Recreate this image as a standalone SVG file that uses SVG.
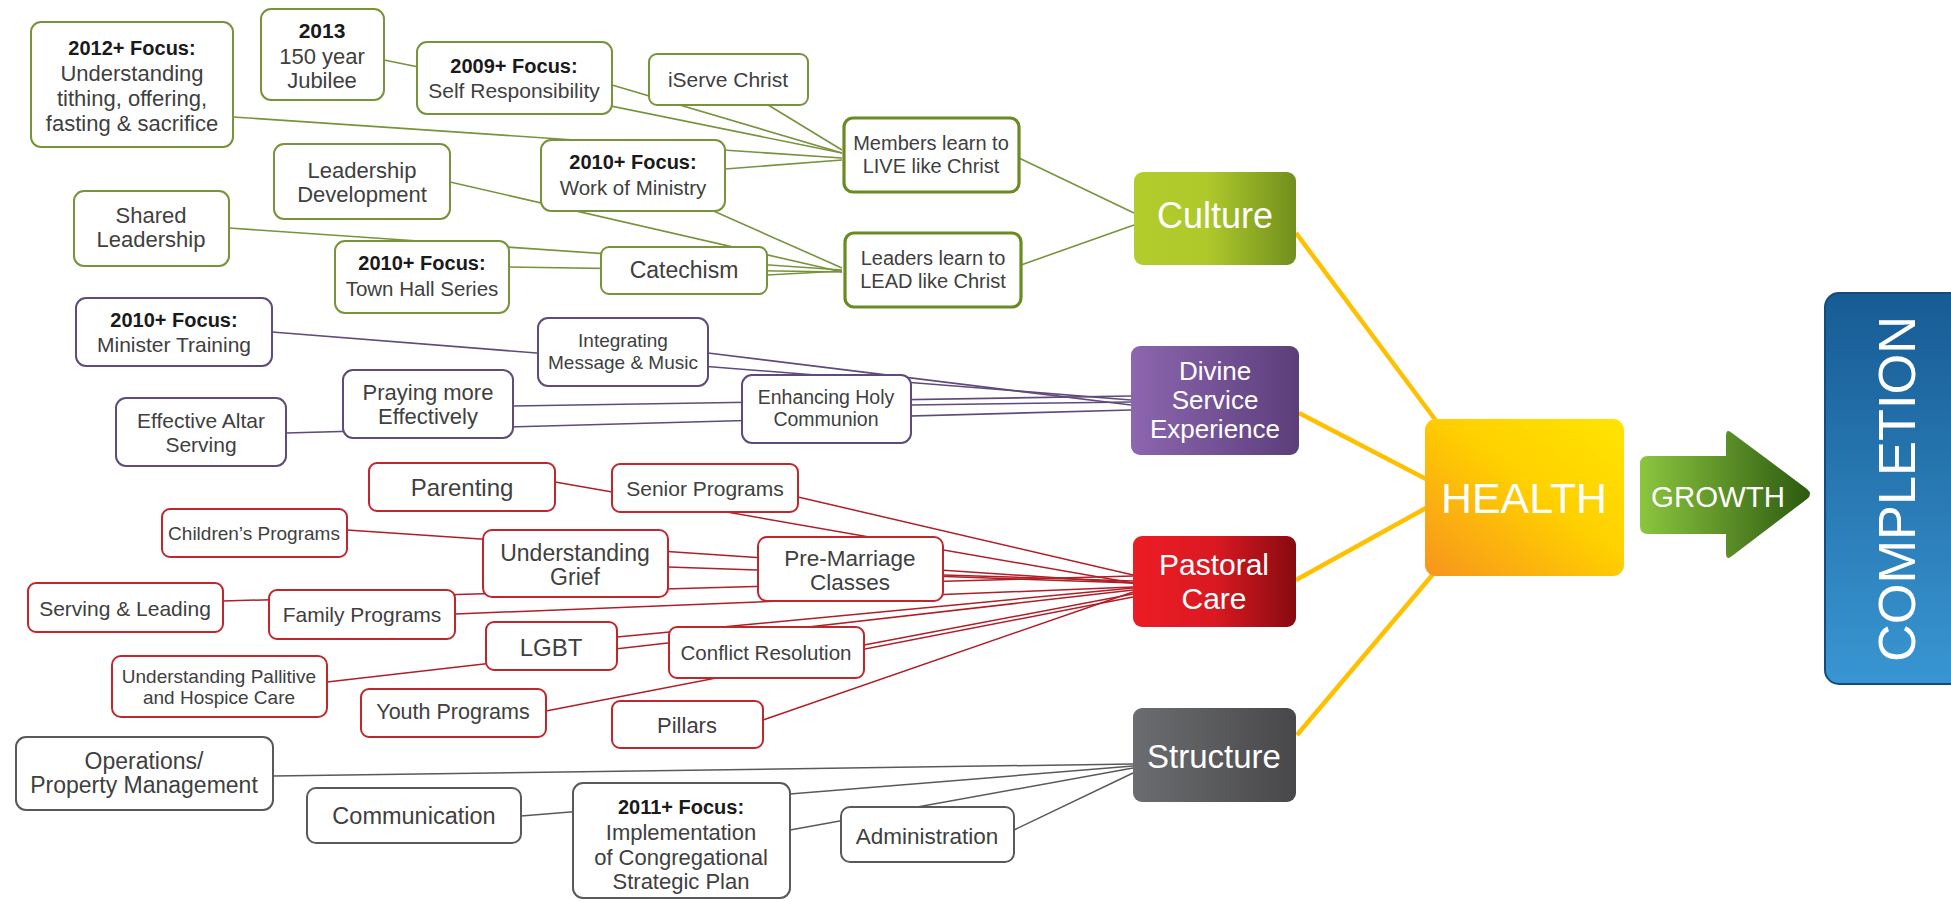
<svg xmlns="http://www.w3.org/2000/svg" width="1951" height="901" viewBox="0 0 1951 901">
<defs>
<style>
.t{font-family:"Liberation Sans",Arial,sans-serif;fill:#404040;text-anchor:middle;dominant-baseline:central}
.b{font-weight:bold;fill:#1a1a1a}
.w{fill:#ffffff}
.gn rect{fill:#fff;stroke:#77933C;stroke-width:2}
.gk rect{fill:#fff;stroke:#6B8A23;stroke-width:3.2}
.pu rect{fill:#fff;stroke:#604A7B;stroke-width:2}
.rd rect{fill:#fff;stroke:#C0272D;stroke-width:2}
.gy rect{fill:#fff;stroke:#595959;stroke-width:2}
.cg line{stroke:#77933C;stroke-width:1.6}
.cp line{stroke:#5F4A7A;stroke-width:1.6}
.cr line{stroke:#B01E27;stroke-width:1.5}
.cy line{stroke:#595959;stroke-width:1.5}
.cw line{stroke:#FFC000;stroke-width:4.5}
</style>
<linearGradient id="gCul" x1="0" y1="0" x2="1" y2="0"><stop offset="0" stop-color="#B2CC2C"/><stop offset="0.45" stop-color="#AFC92B"/><stop offset="1" stop-color="#718F1D"/></linearGradient>
<linearGradient id="gDiv" x1="0" y1="0" x2="1" y2="0"><stop offset="0" stop-color="#8C66AF"/><stop offset="1" stop-color="#5C3E7B"/></linearGradient>
<linearGradient id="gPas" x1="0" y1="0" x2="1" y2="0"><stop offset="0" stop-color="#EC1C24"/><stop offset="0.5" stop-color="#DA1921"/><stop offset="1" stop-color="#870A10"/></linearGradient>
<linearGradient id="gStr" x1="0" y1="0" x2="1" y2="0"><stop offset="0" stop-color="#6C6D70"/><stop offset="1" stop-color="#48484A"/></linearGradient>
<linearGradient id="gHea" x1="1" y1="0" x2="0" y2="1"><stop offset="0" stop-color="#FFE500"/><stop offset="0.45" stop-color="#FFD000"/><stop offset="1" stop-color="#F7941D"/></linearGradient>
<linearGradient id="gGro" x1="0" y1="0" x2="1" y2="0"><stop offset="0" stop-color="#8CC63F"/><stop offset="1" stop-color="#2C5A10"/></linearGradient>
<linearGradient id="gCom" x1="0" y1="0" x2="0" y2="1"><stop offset="0" stop-color="#175B94"/><stop offset="1" stop-color="#3996D2"/></linearGradient>
</defs>
<rect width="1951" height="901" fill="#ffffff"/>

<g id="connectors">
<g class="cg">
<line x1="384" y1="60" x2="842" y2="153"/>
<line x1="612" y1="85" x2="842" y2="153"/>
<line x1="760" y1="100" x2="842" y2="150"/>
<line x1="233" y1="117" x2="842" y2="158"/>
<line x1="725" y1="169" x2="842" y2="160"/>
<line x1="700" y1="205" x2="842" y2="268"/>
<line x1="450" y1="182" x2="842" y2="272"/>
<line x1="229" y1="228" x2="842" y2="270"/>
<line x1="509" y1="267" x2="842" y2="272"/>
<line x1="767" y1="275" x2="842" y2="271"/>
<line x1="1019" y1="158" x2="1134" y2="213"/>
<line x1="1021" y1="265" x2="1134" y2="225"/>
</g>
<g class="cp">
<line x1="272" y1="332" x2="1131" y2="400"/>
<line x1="708" y1="353" x2="1131" y2="405"/>
<line x1="513" y1="406" x2="1131" y2="396"/>
<line x1="286" y1="433" x2="1131" y2="410"/>
<line x1="911" y1="405" x2="1131" y2="402"/>
</g>
<g class="cr">
<line x1="555" y1="482" x2="1133" y2="583"/>
<line x1="798" y1="497" x2="1133" y2="575"/>
<line x1="347" y1="530" x2="1133" y2="583"/>
<line x1="668" y1="567" x2="1133" y2="583"/>
<line x1="223" y1="601" x2="1133" y2="576"/>
<line x1="455" y1="614" x2="1133" y2="587"/>
<line x1="943" y1="575" x2="1133" y2="581"/>
<line x1="617" y1="637" x2="1133" y2="588"/>
<line x1="327" y1="682" x2="1133" y2="590"/>
<line x1="864" y1="645" x2="1133" y2="594"/>
<line x1="546" y1="711" x2="1133" y2="597"/>
<line x1="763" y1="720" x2="1133" y2="592"/>
</g>
<g class="cy">
<line x1="273" y1="776" x2="1133" y2="764"/>
<line x1="521" y1="816" x2="1133" y2="766"/>
<line x1="790" y1="830" x2="1133" y2="768"/>
<line x1="1014" y1="830" x2="1133" y2="773"/>
</g>
<g class="cw">
<line x1="1296" y1="233" x2="1437" y2="422"/>
<line x1="1299" y1="413" x2="1426" y2="479"/>
<line x1="1296" y1="580" x2="1426" y2="508"/>
<line x1="1297" y1="735" x2="1434" y2="573"/>
</g>
</g>

<!-- Culture branch -->
<g id="n2012" class="gn"><rect x="31" y="22" width="202" height="125" rx="10"/>
<text class="t b" x="132" y="48" font-size="20">2012+ Focus:</text>
<text class="t" x="132" y="73" font-size="22">Understanding</text>
<text class="t" x="132" y="98" font-size="22">tithing, offering,</text>
<text class="t" x="132" y="123" font-size="22">fasting &amp; sacrifice</text></g>
<g id="n2013" class="gn"><rect x="261" y="9" width="123" height="91" rx="10"/>
<text class="t b" x="322" y="30" font-size="21">2013</text>
<text class="t" x="322" y="56" font-size="22">150 year</text>
<text class="t" x="322" y="80" font-size="22">Jubilee</text></g>
<g id="n2009" class="gn"><rect x="417" y="42" width="195" height="72" rx="10"/>
<text class="t b" x="514" y="66" font-size="20">2009+ Focus:</text>
<text class="t" x="514" y="90" font-size="21">Self Responsibility</text></g>
<g id="iserve" class="gn"><rect x="649" y="54" width="159" height="51" rx="8"/>
<text class="t" x="728" y="79" font-size="21">iServe Christ</text></g>
<g id="members" class="gk"><rect x="844" y="118" width="175" height="74" rx="9"/>
<text class="t" x="931" y="143" font-size="20">Members learn to</text>
<text class="t" x="931" y="166" font-size="20">LIVE like Christ</text></g>
<g id="leaders" class="gk"><rect x="845" y="233" width="176" height="74" rx="9"/>
<text class="t" x="933" y="258" font-size="20">Leaders learn to</text>
<text class="t" x="933" y="281" font-size="20">LEAD like Christ</text></g>
<g id="work" class="gn"><rect x="541" y="140" width="184" height="71" rx="10"/>
<text class="t b" x="633" y="162" font-size="20">2010+ Focus:</text>
<text class="t" x="633" y="187" font-size="20.5">Work of Ministry</text></g>
<g id="leaddev" class="gn"><rect x="274" y="144" width="176" height="75" rx="10"/>
<text class="t" x="362" y="170" font-size="22">Leadership</text>
<text class="t" x="362" y="194" font-size="22">Development</text></g>
<g id="shared" class="gn"><rect x="74" y="191" width="155" height="75" rx="10"/>
<text class="t" x="151" y="215" font-size="22">Shared</text>
<text class="t" x="151" y="239" font-size="22">Leadership</text></g>
<g id="townhall" class="gn"><rect x="335" y="241" width="174" height="72" rx="10"/>
<text class="t b" x="422" y="263" font-size="20">2010+ Focus:</text>
<text class="t" x="422" y="288" font-size="20.5">Town Hall Series</text></g>
<g id="catechism" class="gn"><rect x="601" y="247" width="166" height="47" rx="8"/>
<text class="t" x="684" y="270" font-size="23">Catechism</text></g>
<g id="culture"><rect x="1134" y="172" width="162" height="93" rx="9" fill="url(#gCul)"/>
<text class="t w" x="1215" y="215" font-size="36">Culture</text></g>

<!-- Divine Service branch -->
<g id="minister" class="pu"><rect x="76" y="298" width="196" height="68" rx="10"/>
<text class="t b" x="174" y="320" font-size="20">2010+ Focus:</text>
<text class="t" x="174" y="344" font-size="21">Minister Training</text></g>
<g id="integrating" class="pu"><rect x="538" y="318" width="170" height="68" rx="10"/>
<text class="t" x="623" y="340" font-size="19">Integrating</text>
<text class="t" x="623" y="362" font-size="19">Message &amp; Music</text></g>
<g id="praying" class="pu"><rect x="343" y="370" width="170" height="68" rx="10"/>
<text class="t" x="428" y="392" font-size="22">Praying more</text>
<text class="t" x="428" y="416" font-size="22">Effectively</text></g>
<g id="altar" class="pu"><rect x="116" y="398" width="170" height="68" rx="10"/>
<text class="t" x="201" y="420" font-size="21">Effective Altar</text>
<text class="t" x="201" y="444" font-size="21">Serving</text></g>
<g id="enhancing" class="pu"><rect x="742" y="375" width="169" height="68" rx="10"/>
<text class="t" x="826" y="397" font-size="19.5">Enhancing Holy</text>
<text class="t" x="826" y="419" font-size="19.5">Communion</text></g>
<g id="divine"><rect x="1131" y="346" width="168" height="109" rx="9" fill="url(#gDiv)"/>
<text class="t w" x="1215" y="371" font-size="26">Divine</text>
<text class="t w" x="1215" y="400" font-size="26">Service</text>
<text class="t w" x="1215" y="429" font-size="26">Experience</text></g>

<!-- Pastoral Care branch -->
<g id="parenting" class="rd"><rect x="369" y="463" width="186" height="48" rx="8"/>
<text class="t" x="462" y="487" font-size="24">Parenting</text></g>
<g id="senior" class="rd"><rect x="612" y="464" width="186" height="48" rx="8"/>
<text class="t" x="705" y="488" font-size="21">Senior Programs</text></g>
<g id="children" class="rd"><rect x="162" y="509" width="185" height="48" rx="8"/>
<text class="t" x="254" y="533" font-size="19">Children’s Programs</text></g>
<g id="grief" class="rd"><rect x="483" y="530" width="185" height="67" rx="9"/>
<text class="t" x="575" y="553" font-size="23">Understanding</text>
<text class="t" x="575" y="577" font-size="23">Grief</text></g>
<g id="premarriage" class="rd"><rect x="758" y="537" width="185" height="64" rx="9"/>
<text class="t" x="850" y="558" font-size="22.5">Pre-Marriage</text>
<text class="t" x="850" y="582" font-size="22.5">Classes</text></g>
<g id="serving" class="rd"><rect x="28" y="583" width="195" height="49" rx="8"/>
<text class="t" x="125" y="608" font-size="21">Serving &amp; Leading</text></g>
<g id="family" class="rd"><rect x="269" y="590" width="186" height="49" rx="8"/>
<text class="t" x="362" y="614" font-size="21">Family Programs</text></g>
<g id="lgbt" class="rd"><rect x="486" y="622" width="131" height="48" rx="8"/>
<text class="t" x="551" y="647" font-size="24">LGBT</text></g>
<g id="conflict" class="rd"><rect x="669" y="627" width="195" height="51" rx="8"/>
<text class="t" x="766" y="652" font-size="20.5">Conflict Resolution</text></g>
<g id="pallitive" class="rd"><rect x="112" y="656" width="215" height="61" rx="9"/>
<text class="t" x="219" y="676" font-size="19">Understanding Pallitive</text>
<text class="t" x="219" y="697" font-size="19">and Hospice Care</text></g>
<g id="youth" class="rd"><rect x="361" y="689" width="185" height="48" rx="8"/>
<text class="t" x="453" y="712" font-size="21.5">Youth Programs</text></g>
<g id="pillars" class="rd"><rect x="612" y="701" width="151" height="47" rx="8"/>
<text class="t" x="687" y="725" font-size="22">Pillars</text></g>
<g id="pastoral"><rect x="1133" y="536" width="163" height="91" rx="9" fill="url(#gPas)"/>
<text class="t w" x="1214" y="564" font-size="30">Pastoral</text>
<text class="t w" x="1214" y="598" font-size="30">Care</text></g>

<!-- Structure branch -->
<g id="operations" class="gy"><rect x="16" y="737" width="257" height="73" rx="10"/>
<text class="t" x="144" y="761" font-size="23">Operations/</text>
<text class="t" x="144" y="785" font-size="23">Property Management</text></g>
<g id="communication" class="gy"><rect x="307" y="788" width="214" height="55" rx="9"/>
<text class="t" x="414" y="816" font-size="23.5">Communication</text></g>
<g id="n2011" class="gy"><rect x="573" y="783" width="217" height="115" rx="10"/>
<text class="t b" x="681" y="807" font-size="20">2011+ Focus:</text>
<text class="t" x="681" y="832" font-size="22">Implementation</text>
<text class="t" x="681" y="857" font-size="22">of Congregational</text>
<text class="t" x="681" y="881" font-size="22">Strategic Plan</text></g>
<g id="administration" class="gy"><rect x="841" y="807" width="173" height="55" rx="9"/>
<text class="t" x="927" y="836" font-size="22.5">Administration</text></g>
<g id="structure"><rect x="1133" y="708" width="163" height="94" rx="9" fill="url(#gStr)"/>
<text class="t w" x="1214" y="756" font-size="33">Structure</text></g>

<!-- Right side -->
<g id="health"><rect x="1425" y="419" width="199" height="157" rx="11" fill="url(#gHea)"/>
<text class="t w" x="1524" y="498" font-size="42" textLength="166" lengthAdjust="spacingAndGlyphs">HEALTH</text></g>
<g id="growth"><path d="M1648,456 H1726 V436 Q1726,428 1732,433 L1807,489 Q1813,494 1807,499 L1732,556 Q1726,561 1726,553 V534 H1648 Q1640,534 1640,526 V464 Q1640,456 1648,456 Z" fill="url(#gGro)"/>
<text class="t w" x="1718" y="497" font-size="29" textLength="134" lengthAdjust="spacingAndGlyphs">GROWTH</text></g>
<g id="completion"><rect x="1825" y="293" width="170" height="391" rx="14" fill="url(#gCom)" stroke="#124C7E" stroke-width="2"/>
<text class="t w" x="0" y="0" font-size="52" textLength="346" lengthAdjust="spacingAndGlyphs" transform="translate(1897,489) rotate(-90)">COMPLETION</text></g>
</svg>
